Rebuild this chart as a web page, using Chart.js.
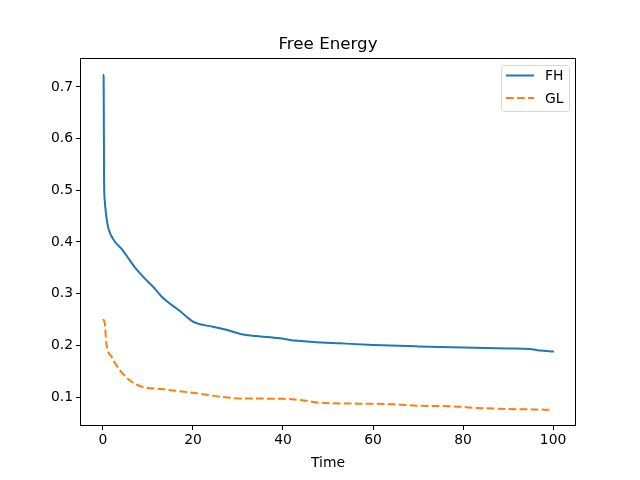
<!DOCTYPE html>
<html>
<head>
<meta charset="utf-8">
<script src="https://cdn.jsdelivr.net/npm/chart.js@4"></script>
<style>
  html, body { margin: 0; padding: 0; background: #fff; }
  #wrap { width: 640px; height: 480px; }
</style>
</head>
<body>
<div id="wrap"><canvas id="chart" width="640" height="480"></canvas></div>
<script>
// data
const fhTime  = [0, 0.15, 0.25, 0.4, 1.0, 2.2, 4.4, 5.6, 7.0, 9.0, 11.5, 13.3, 17.1, 20, 24.4, 27.4, 30.8, 34.1, 39.3, 41.5, 46.7, 52.6, 60, 70, 80, 90, 94.8, 97, 100.2];
const fhValue = [0.724, 0.72, 0.52, 0.48, 0.435, 0.4065, 0.384, 0.369, 0.352, 0.332, 0.31, 0.292, 0.2664, 0.2458, 0.236, 0.2303, 0.2215, 0.218, 0.2137, 0.2105, 0.2067, 0.204, 0.2009, 0.198, 0.1957, 0.194, 0.193, 0.19, 0.188];
const glTime  = [0, 0.4, 0.75, 1.9, 3.7, 6.3, 8.5, 13, 20.4, 26.7, 30.4, 40, 45.2, 48.2, 60, 64.4, 69.6, 77.8, 83, 89.6, 99.3];
const glValue = [0.2504, 0.243, 0.204, 0.178, 0.1527, 0.13, 0.1205, 0.1154, 0.1077, 0.1, 0.0974, 0.0966, 0.0928, 0.089, 0.087, 0.0862, 0.0833, 0.082, 0.079, 0.077, 0.0755];
const seriesNames = ["FH", "GL"];
const xTicks = [0, 20, 40, 60, 80, 100];
const yTicks = [0.1, 0.2, 0.3, 0.4, 0.5, 0.6, 0.7];

(function () {
    "use strict";

    const FONT = "'DejaVu Sans', sans-serif";
    const colors = ['#1f77b4', '#ff7f0e'];
    const dashes = [[], [7.7, 3.3]];

    // title, axis label, frame and matplotlib-like legend
    const decorPlugin = {
        id: 'decor',
        afterDraw(chart) {
            const ctx = chart.ctx;
            const a = chart.chartArea;
            ctx.save();
            ctx.strokeStyle = '#000';
            ctx.lineWidth = 1;
            ctx.strokeRect(Math.round(a.left) + 0.5, Math.round(a.top) + 0.5,
                Math.round(a.right - a.left) - 1, Math.round(a.bottom - a.top) - 1);

            ctx.fillStyle = '#000';
            ctx.textAlign = 'center';
            ctx.textBaseline = 'alphabetic';
            ctx.font = '16.7px ' + FONT;
            ctx.fillText('Free Energy', (a.left + a.right) / 2, 49);
            ctx.font = '13.9px ' + FONT;
            ctx.fillText('Time', (a.left + a.right) / 2, 467);

            // legend box
            const bx = 501.5, by = 65.5, bw = 68, bh = 46, r = 3;
            ctx.beginPath();
            ctx.moveTo(bx + r, by);
            ctx.arcTo(bx + bw, by, bx + bw, by + bh, r);
            ctx.arcTo(bx + bw, by + bh, bx, by + bh, r);
            ctx.arcTo(bx, by + bh, bx, by, r);
            ctx.arcTo(bx, by, bx + bw, by, r);
            ctx.closePath();
            ctx.fillStyle = 'rgba(255,255,255,0.8)';
            ctx.fill();
            ctx.strokeStyle = '#d6d6d6';
            ctx.stroke();

            seriesNames.forEach((name, i) => {
                const ly = 75.5 + i * 22.5;
                ctx.beginPath();
                ctx.setLineDash(dashes[i]);
                ctx.strokeStyle = colors[i];
                ctx.lineWidth = 2;
                ctx.moveTo(506, ly);
                ctx.lineTo(534, ly);
                ctx.stroke();
                ctx.setLineDash([]);
                ctx.fillStyle = '#000';
                ctx.textAlign = 'left';
                ctx.textBaseline = 'middle';
                ctx.font = '13.9px ' + FONT;
                ctx.fillText(name, 545, ly + 1);
            });
            ctx.restore();
        }
    };

    function toPoints(xs, ys) {
        return xs.map((x, i) => ({ x: x, y: ys[i] }));
    }

    new Chart(document.getElementById('chart'), {
        type: 'line',
        data: {
            datasets: [{
                label: seriesNames[0],
                data: toPoints(fhTime, fhValue),
                borderColor: colors[0],
                borderWidth: 2,
                pointRadius: 0,
                cubicInterpolationMode: 'monotone',
                fill: false
            },
            {
                label: seriesNames[1],
                data: toPoints(glTime, glValue),
                borderColor: colors[1],
                borderWidth: 2,
                borderDash: dashes[1],
                pointRadius: 0,
                cubicInterpolationMode: 'monotone',
                fill: false
            }]
        },
        options: {
            animation: false,
            responsive: false,
            devicePixelRatio: 1,
            layout: { padding: { left: 0, right: 64, top: 58, bottom: 0 } },
            plugins: {
                legend: { display: false },
                title: { display: false },
                tooltip: { enabled: false }
            },
            scales: {
                x: {
                    type: 'linear',
                    min: -5.1,
                    max: 105.1,
                    afterBuildTicks: s => { s.ticks = xTicks.map(v => ({ value: v })); },
                    afterFit: s => { s.height = 54; },
                    grid: { drawOnChartArea: false, tickLength: 4, color: '#000', tickWidth: 1 },
                    border: { display: false },
                    ticks: { color: '#000', font: { family: FONT, size: 13.9 }, padding: 2, maxRotation: 0 }
                },
                y: {
                    type: 'linear',
                    min: 0.044,
                    max: 0.756,
                    afterBuildTicks: s => { s.ticks = yTicks.map(v => ({ value: v })); },
                    afterFit: s => { s.width = 80; },
                    grid: { drawOnChartArea: false, tickLength: 4, color: '#000', tickWidth: 1 },
                    border: { display: false },
                    ticks: { color: '#000', font: { family: FONT, size: 13.9 }, padding: 3,
                        callback: v => v.toFixed(1) }
                }
            }
        },
        plugins: [decorPlugin]
    });
})();
</script>
</body>
</html>
